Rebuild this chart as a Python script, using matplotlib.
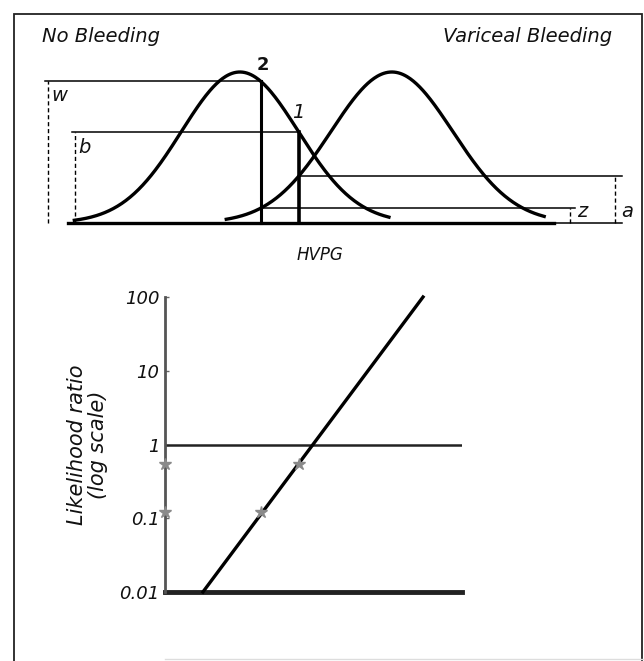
import numpy as np
import matplotlib
matplotlib.use('Agg')
from matplotlib import pyplot as plt
from matplotlib.patches import Rectangle

plt.rcParams['font.family'] = ['DejaVu Sans']

# Two HVPG distributions (arbitrary HVPG units)
mean_no_bleed, mean_bleed = 3.53, 6.65
sd_no_bleed, sd_bleed = 1.2, 1.25
tail = 3.4
# Cut-off points on HVPG
cut_labels = ['2', '1']
cut_values = [3.96, 4.74]
# Likelihood ratio line (log scale)
lr_line_x = [2.77, 7.29]
lr_line_y = [0.01, 100]
lr_points = [0.12, 0.55]
y_ticks = [0.01, 0.1, 1, 10, 100]
y_ticklabels = ['0.01', '0.1', '1', '10', '100']


def density(x, m, s):
    return np.exp(-0.5 * ((x - m) / s) ** 2)


W, H = 644, 661
fig = plt.figure(figsize=(W / 100, H / 100), dpi=100)

# outer frame
fig.patches.append(Rectangle((14 / W, -0.01), (642 - 14) / W, (H - 14) / H + 0.01,
                             transform=fig.transFigure, fill=False,
                             edgecolor='#222222', lw=1.3))
fig.lines.append(plt.Line2D([165 / W, 1], [2 / H, 2 / H], transform=fig.transFigure,
                            c='#dddddd', lw=1))

###############################################################################
### Top panel: distributions
###############################################################################
px = 48.7   # pixels per HVPG unit
py = 151.0  # pixels per unit density
ax1 = fig.add_axes([0, (H - 275) / H, 1, (275 - 14) / H])
ax1.set_xlim(-68 / px, (W - 68) / px)
ax1.set_ylim(-(275 - 223) / py, (223 - 14) / py)
ax1.axis('off')

x1 = np.linspace(mean_no_bleed - tail, mean_no_bleed + tail * 0.9, 300)
x2 = np.linspace(mean_bleed - tail, mean_bleed + tail * 0.92, 300)
ax1.plot(x1, density(x1, mean_no_bleed, sd_no_bleed), c='black', lw=2.4)
ax1.plot(x2, density(x2, mean_bleed, sd_bleed), c='black', lw=2.4)
ax1.plot([0, 9.98], [0, 0], c='black', lw=2.4)

hw = density(cut_values[0], mean_no_bleed, sd_no_bleed)
hb = density(cut_values[1], mean_no_bleed, sd_no_bleed)
hz = density(cut_values[0], mean_bleed, sd_bleed)
ha = density(cut_values[1], mean_bleed, sd_bleed)

# vertical cut lines
ax1.plot([cut_values[0]] * 2, [0, hw], c='black', lw=2.2)
ax1.plot([cut_values[1]] * 2, [0, hb], c='black', lw=2.6)

# horizontal reference lines
xw, xb = -0.47, 0.08
xz, xa = 10.31, 11.23
ax1.plot([xw, cut_values[0]], [hw, hw], c='black', lw=1.1)
ax1.plot([xb, cut_values[1]], [hb, hb], c='black', lw=1.1)
ax1.plot([cut_values[0], xz + 0.1], [hz, hz], c='black', lw=1.1)
ax1.plot([cut_values[1], xa + 0.15], [ha, ha], c='black', lw=1.1)
ax1.plot([9.98, xa + 0.15], [0, 0], c='black', lw=1.1)

ax1.plot([xw + 0.05] * 2, [0, hw], c='black', lw=1, ls=(0, (3, 2)))
ax1.plot([xb + 0.06] * 2, [0, hb], c='black', lw=1, ls=(0, (3, 2)))
ax1.plot([xz] * 2, [0, hz], c='black', lw=1, ls=(0, (3, 2)))
ax1.plot([xa] * 2, [0, ha], c='black', lw=1, ls=(0, (3, 2)))

tk = dict(style='italic', fontsize=14, color='#111111')
ax1.text(xw + 0.12, hw - 0.03, 'w', va='top', ha='left', **tk)
ax1.text(xb + 0.14, hb - 0.04, 'b', va='top', ha='left', **tk)
ax1.text(xz + 0.14, 0.01, 'z', va='bottom', ha='left', **tk)
ax1.text(xa + 0.12, 0.01, 'a', va='bottom', ha='left', **tk)
ax1.text(cut_values[0] + 0.05, hw + 0.05, cut_labels[0], ha='center', va='bottom',
         fontsize=13, fontweight='bold', color='#111111')
ax1.text(cut_values[1] - 0.02, hb + 0.07, cut_labels[1], ha='center', va='bottom',
         **tk)
ax1.text(5.17, -0.21, 'HVPG', ha='center', va='center', style='italic',
         fontsize=12, color='#111111')

fig.text(42 / W, (H - 37) / H, 'No Bleeding', ha='left', va='center', **tk)
fig.text(612 / W, (H - 37) / H, 'Variceal Bleeding', ha='right', va='center', **tk)

###############################################################################
### Bottom panel: likelihood ratio
###############################################################################
ax2 = fig.add_axes([165 / W, (H - 592) / H, (462 - 165) / W, (592 - 297) / H])
ax2.set_yscale('log')
ax2.set_xlim((165 - 68) / px, (462 - 68) / px)
ax2.set_ylim(0.01, 100)
for s in ['top', 'right', 'bottom']:
    ax2.spines[s].set_visible(False)
ax2.spines['left'].set_color('#555555')
ax2.spines['left'].set_linewidth(2)
ax2.set_xticks([])
ax2.set_yticks(y_ticks)
ax2.set_yticklabels(y_ticklabels, style='italic', fontsize=13, color='#111111')
ax2.minorticks_off()
ax2.tick_params(axis='y', direction='in', length=3, width=1, color='#666666', pad=4)

ax2.axhline(1, c='#222222', lw=1.8)
ax2.axhline(0.01, c='#222222', lw=3.5, clip_on=False)
ax2.plot(lr_line_x, lr_line_y, c='black', lw=2.4, clip_on=False)
ax2.plot(cut_values, lr_points, ls='none', marker='*', ms=9, c='#8a8a8a', zorder=5)
ax2.plot([ax2.get_xlim()[0]] * 2, lr_points, ls='none', marker='*', ms=9,
         c='#8a8a8a', clip_on=False, zorder=5)
ax2.set_ylabel('Likelihood ratio\n(log scale)', style='italic', fontsize=15,
               color='#111111', labelpad=8, linespacing=1.05)

fig.savefig('out.png', dpi=100)
